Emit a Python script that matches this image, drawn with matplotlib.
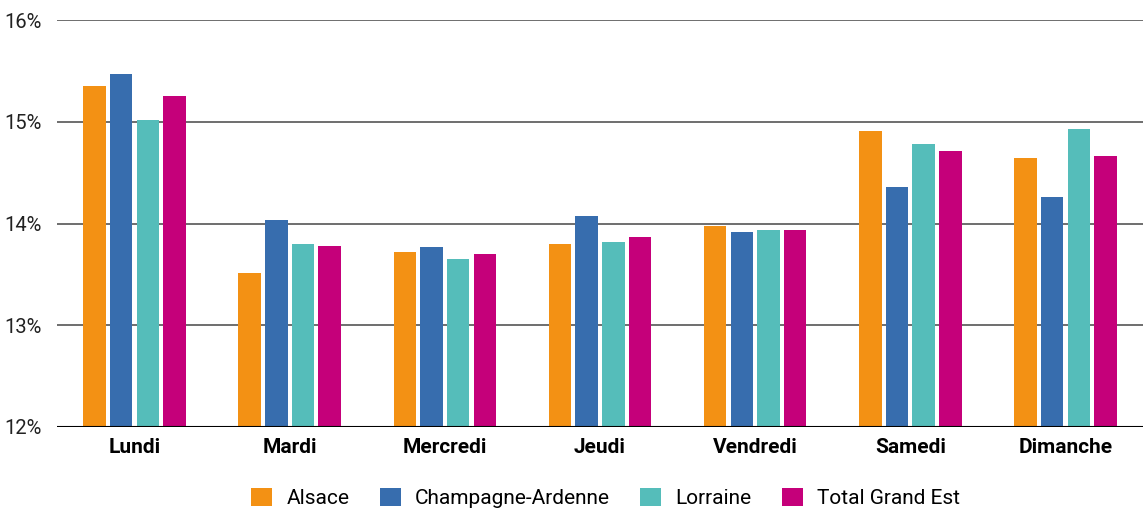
import numpy as np
import matplotlib.pyplot as plt
from matplotlib.ticker import FuncFormatter

plt.rcParams['font.family'] = ['Roboto', 'DejaVu Sans']

# Data
jours = ["Lundi", "Mardi", "Mercredi", "Jeudi", "Vendredi", "Samedi", "Dimanche"]
alsace = [15.35, 13.51, 13.72, 13.80, 13.98, 14.91, 14.64]
champagne = [15.47, 14.03, 13.77, 14.07, 13.92, 14.36, 14.26]
lorraine = [15.02, 13.80, 13.65, 13.82, 13.94, 14.78, 14.93]
total = [15.25, 13.78, 13.70, 13.87, 13.94, 14.71, 14.66]

series = [
    ("Alsace", alsace, "#F39114"),
    ("Champagne-Ardenne", champagne, "#376DAE"),
    ("Lorraine", lorraine, "#55BDBA"),
    ("Total Grand Est", total, "#C5007A"),
]

fig = plt.figure(figsize=(11.43, 5.09), dpi=100)
ax = fig.add_axes([57 / 1143, 1 - 427 / 509, 1 - 57 / 1143, 407 / 509])

x = np.arange(len(jours))
slot = 0.172
width = 0.145
base = 12
for i, (name, vals, col) in enumerate(series):
    offs = (i - 1.5) * slot
    ax.bar(x + offs, np.array(vals) - base, width, bottom=base, color=col,
           label=name, zorder=3)

ax.set_ylim(12, 16)
ax.set_xlim(-0.5, len(jours) - 0.5)
ax.set_yticks([12, 13, 14, 15, 16])
ax.yaxis.set_major_formatter(FuncFormatter(lambda v, p: f"{v:.0f}%"))
ax.grid(axis="y", color="#555555", linewidth=1.2, zorder=0)
ax.axhline(12, color="black", linewidth=1.5, zorder=4)
for s in ax.spines.values():
    s.set_visible(False)
ax.tick_params(axis="y", length=0, labelsize=14.5, pad=11, labelcolor="#222222")
ax.tick_params(axis="x", length=0, labelsize=15, pad=8)
ax.set_xticks(x)
ax.set_xticklabels(jours, fontweight="bold")

fig.legend(loc="center", bbox_to_anchor=(0.530, 1 - 498 / 509), ncol=4,
           frameon=False, fontsize=15, handlelength=1.0, handleheight=1.0,
           columnspacing=1.45, handletextpad=0.7)

fig.savefig("out.png", dpi=100)
